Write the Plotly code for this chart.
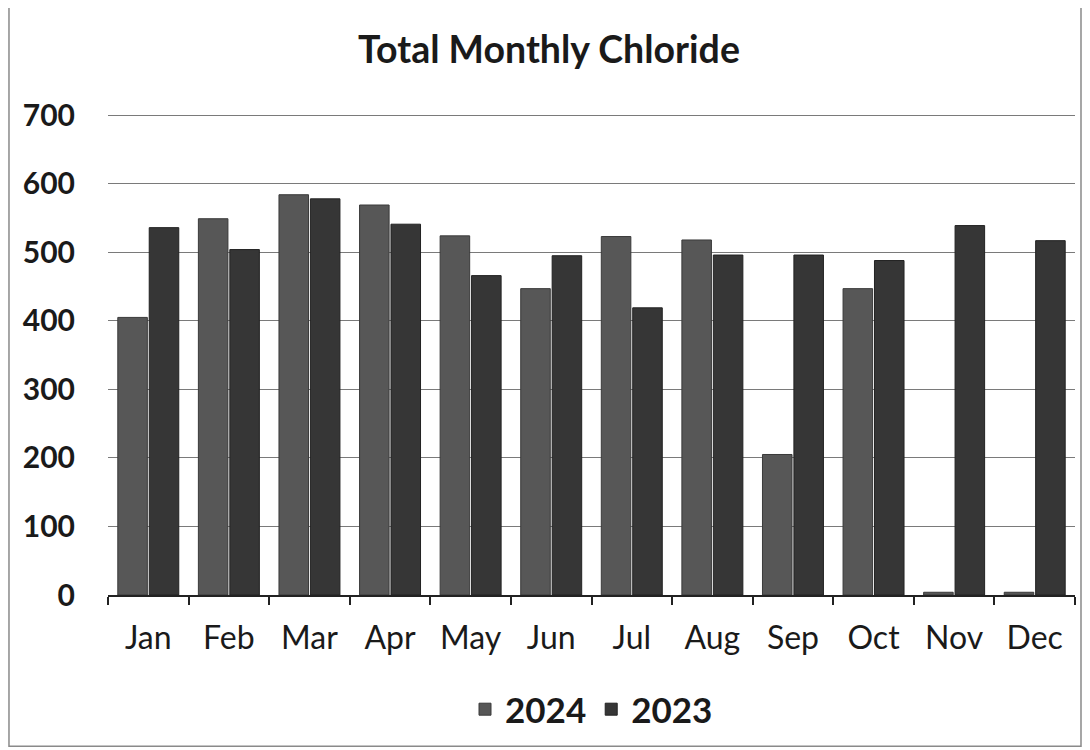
import plotly.graph_objects as go

months = ["Jan", "Feb", "Mar", "Apr", "May", "Jun", "Jul", "Aug", "Sep", "Oct", "Nov", "Dec"]
vals_2024 = [405, 549, 584, 569, 524, 447, 523, 518, 205, 447, 4, 4]
vals_2023 = [536, 504, 578, 541, 466, 495, 419, 496, 496, 488, 539, 517]
y_ticks = [0, 100, 200, 300, 400, 500, 600, 700]

fig = go.Figure()
fig.add_trace(go.Bar(name="<b>2024</b>", x=months, y=vals_2024,
                     marker=dict(color="#575757", line=dict(color="#3a3a3a", width=1))))
fig.add_trace(go.Bar(name="<b>2023</b>", x=months, y=vals_2023,
                     marker=dict(color="#363636", line=dict(color="#222222", width=1))))

fig.update_layout(
    width=1082, height=742,
    paper_bgcolor="white", plot_bgcolor="white",
    font=dict(family="Lato, 'Open Sans', sans-serif", color="#1a1a1a"),
    title=dict(text="<b>Total Monthly Chloride</b>", x=0.5, xanchor="center",
               y=0.943, yanchor="middle", font=dict(size=37.5, color="#1a1a1a")),
    margin=dict(l=100, r=15, t=99, b=154),
    barmode="group", bargap=0.22, bargroupgap=0.06,
    showlegend=True,
    legend=dict(orientation="h", x=0.5, xanchor="center", y=-0.232, yanchor="middle",
                font=dict(size=35, color="#1a1a1a"),
                itemwidth=30, traceorder="normal"),
    xaxis=dict(showgrid=False, showline=True, linecolor="#222222", linewidth=2,
               ticks="outside", tickson="boundaries", ticklen=8, tickcolor="#222222",
               tickwidth=2, ticklabelstandoff=14, tickfont=dict(size=32, color="#1a1a1a")),
    yaxis=dict(range=[0, 712], tickvals=y_ticks,
               showgrid=True, gridcolor="#7a7a7a", gridwidth=1,
               showline=False, ticks="", zeroline=False, ticklabelstandoff=32,
               tickfont=dict(size=30, color="#1a1a1a", weight="bold")),
    shapes=[dict(type="rect", xref="paper", yref="paper", x0=-0.1024, x1=1.0062,
                 y0=-0.3098, y1=1.2204, line=dict(color="#8a8a8a", width=1.5))],
)

fig.write_html("out.html")
